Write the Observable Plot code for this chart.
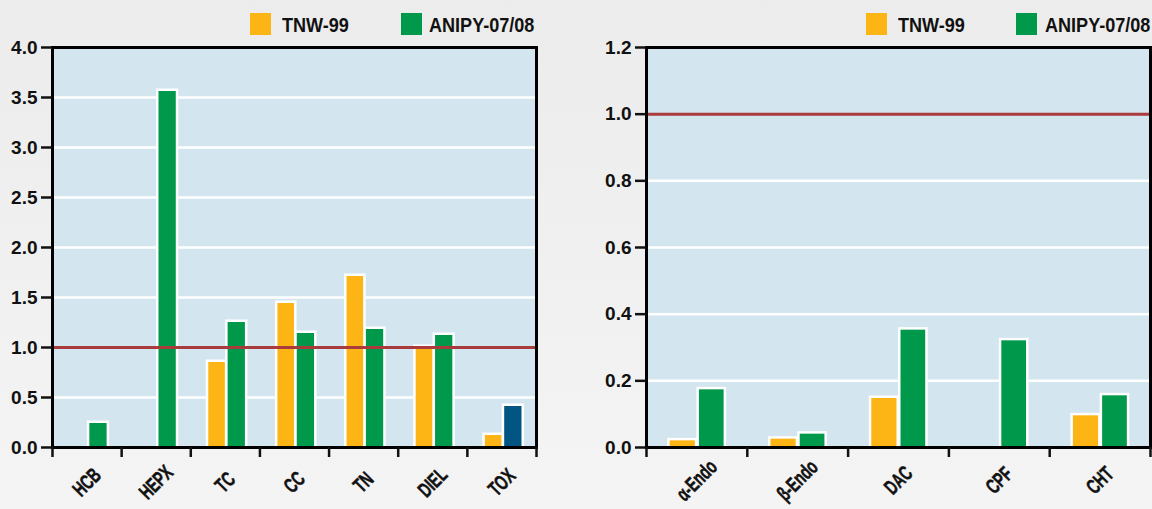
<!DOCTYPE html>
<html><head><meta charset="utf-8">
<script src="https://cdn.jsdelivr.net/npm/d3@7"></script>
<script src="https://cdn.jsdelivr.net/npm/@observablehq/plot@0.6"></script>
<style>
body{margin:0;background:#f0f0f0;}
#wrap{position:relative;width:1152px;height:509px;overflow:hidden;background:linear-gradient(180deg,#ececec,#f4f4f4);font-family:"Liberation Sans",Arial,sans-serif;font-weight:bold;}
.chart{position:absolute;top:0;}
.lg{position:absolute;font-size:21px;line-height:21px;color:#111;white-space:nowrap;transform:scaleX(0.86);transform-origin:0 0;}
.sw{position:absolute;width:21px;height:22px}
</style></head><body><div id="wrap"></div>
<script>
const seriesNames = ["TNW-99", "ANIPY-07/08"];
const seriesColors = ["#fdb515", "#00984a"];
const highlightColor = "#005583";
const thresholdValue = 1.0;

const catsA = ["HCB", "HEPX", "TC", "CC", "TN", "DIEL", "TOX"];
const tnwA = [null, null, 0.85, 1.44, 1.71, 1.00, 0.12];
const anipyA = [0.24, 3.56, 1.25, 1.14, 1.18, 1.12, 0.41];
const highlightA = ["TOX"];
const ticksA = [0, 0.5, 1, 1.5, 2, 2.5, 3, 3.5, 4];

const catsB = ["α-Endo", "β-Endo", "DAC", "CPF", "CHT"];
const tnwB = [0.02, 0.025, 0.147, null, 0.095];
const anipyB = [0.173, 0.04, 0.352, 0.32, 0.155];
const highlightB = [];
const ticksB = [0, 0.2, 0.4, 0.6, 0.8, 1.0, 1.2];

const FONT = '"Liberation Sans",Arial,sans-serif';

function chart({cats, tnw, anipy, highlight, ticks, width, ml, mr, xInset, labelDx, labelDy}) {
  const rows = [];
  cats.forEach((c, i) => {
    if (tnw[i] != null) rows.push({i, c, s: 0, v: tnw[i], hi: false});
    if (anipy[i] != null) rows.push({i, c, s: 1, v: anipy[i], hi: highlight.includes(c)});
  });
  const n = cats.length;
  const yMax = ticks[ticks.length - 1];
  const [o0, o1, g0, g1] = xInset;
  const x1 = d => d.i + (d.s === 0 ? o0 : g0);
  const x2 = d => d.i + (d.s === 0 ? o1 : g1);
  const fill = d => d.hi ? highlightColor : seriesColors[d.s];
  const grid = ticks.filter(t => t > 0 && t < yMax && t !== thresholdValue);
  return Plot.plot({
    width, height: 509,
    marginTop: 47, marginBottom: 62, marginLeft: ml, marginRight: mr,
    x: {domain: [0, n], axis: null},
    y: {domain: [0, yMax], axis: null},
    style: {background: "transparent", fontFamily: FONT, fontWeight: "bold", fontSize: "19px", color: "#111", overflow: "visible"},
    marks: [
      Plot.frame({fill: "#d3e5ee"}),
      Plot.ruleY(grid, {stroke: "white", strokeWidth: 2.5}),
      Plot.rect(rows, {x1, x2, y1: () => 0, y2: "v", fill: "white", insetTop: -2.5, insetLeft: -2.5, insetRight: -2.5}),
      Plot.rect(rows, {x1, x2, y1: () => 0, y2: "v", fill}),
      Plot.ruleY([thresholdValue], {stroke: "#a93b3d", strokeWidth: 3}),
      Plot.frame({stroke: "#000", strokeWidth: 3}),
      Plot.axisY({ticks, tickSize: 11, tickPadding: 4, tickFormat: d3.format(".1f"), strokeWidth: 2.5, label: null, fontSize: 19}),
      Plot.axisX({ticks: d3.range(n + 1), tickSize: 10, tickFormat: () => "", strokeWidth: 2.5, label: null}),
      Plot.text(cats, {x: (d, i) => i + 0.5, frameAnchor: "bottom", dx: labelDx, dy: labelDy, rotate: -45, textAnchor: "middle", lineAnchor: "middle", fontSize: 21, fill: "#111", stroke: "#111", strokeWidth: 0.5})
    ]
  });
}

const wrap = document.getElementById("wrap");
function place(el, left) {
  el.classList.add("chart"); el.style.left = left + "px"; wrap.appendChild(el);
  // condensed lettering for the category labels
  el.querySelectorAll('g[aria-label="text"] text').forEach(t => {
    const w = t.getComputedTextLength();
    t.setAttribute("textLength", (w * 0.66).toFixed(1));
    t.setAttribute("lengthAdjust", "spacingAndGlyphs");
  });
}

place(chart({cats: catsA, tnw: tnwA, anipy: anipyA, highlight: highlightA, ticks: ticksA,
  width: 576, ml: 52, mr: 40, xInset: [0.26, 0.5, 0.54, 0.79], labelDx: 0, labelDy: 35}), 0);
place(chart({cats: catsB, tnw: tnwB, anipy: anipyB, highlight: highlightB, ticks: ticksB,
  width: 576, ml: 70, mr: 2, xInset: [0.235, 0.485, 0.525, 0.77], labelDx: 0, labelDy: 33}), 576);

function legend(items) {
  items.forEach(([sx, tx, k]) => {
    const sw = document.createElement("div");
    sw.className = "sw"; sw.style.left = sx + "px"; sw.style.top = "13px"; sw.style.background = seriesColors[k];
    wrap.appendChild(sw);
    const t = document.createElement("div");
    t.className = "lg"; t.style.left = tx + "px"; t.style.top = "14px"; t.textContent = seriesNames[k];
    wrap.appendChild(t);
  });
}
legend([[250, 282, 0], [401, 429, 1]]);
legend([[866, 898, 0], [1016, 1045, 1]]);
</script></body></html>
